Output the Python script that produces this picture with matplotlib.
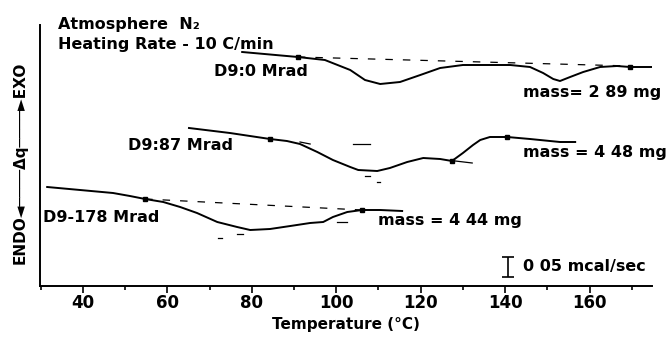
import matplotlib
matplotlib.use("Agg")
import matplotlib.pyplot as plt
from matplotlib.ticker import MultipleLocator

plt.rcParams['font.family'] = ['DejaVu Sans']
plt.rcParams['font.weight'] = 'bold'

# DSC traces: temperature (C) and signal (arb. units, EXO up)
T_0 = [77.7, 90.9, 97.3, 100.9, 103.3, 106.8, 110.4, 115.1, 119.9, 124.6, 130.0, 136.4,
       141.2, 145.9, 149.0, 151.4, 153.0, 155.4, 158.5, 162.5, 166.5, 169.6, 174.8]
q_0 = [234, 229, 226, 220, 216, 206, 202, 204, 211, 218, 221, 221,
       221, 219, 213, 207, 205, 209, 214, 219, 220, 219, 219]

T_87 = [65.1, 74.8, 84.3, 88.3, 91.4, 95.5, 99.2, 103.3, 105.2, 109.7, 112.7, 116.8,
        120.6, 124.6, 127.4, 130.0, 132.4, 134.1, 136.4, 140.5, 145.9, 153.0, 156.6]
q_87 = [158, 153, 147, 145, 142, 134, 126, 119, 116, 115, 118, 124,
        128, 127, 125, 133, 141, 146, 149, 149, 147, 144, 144]

T_178 = [31.5, 39.3, 47.1, 51.1, 54.7, 59.0, 63.0, 67.0, 71.8, 76.5, 79.6, 84.3,
         89.1, 93.8, 96.9, 99.2, 102.6, 106.1, 110.4, 115.6]
q_178 = [99, 96, 93, 90, 87, 84, 79, 73, 64, 59, 56, 57,
         60, 63, 64, 69, 74, 76, 76, 75]

# square markers (onset / end points)
mark_T = [90.9, 169.6, 84.3, 127.4, 140.5, 54.7, 106.1]
mark_q = [229, 219, 147, 125, 149, 87, 76]

# dashed baselines
base_T = [[90.9, 169.6], [54.7, 106.1]]
base_q = [[229, 220], [87, 76]]

# short tangent construction strokes
tick_T = [[91.4, 93.8], [104.0, 108.0], [106.8, 108.0], [109.7, 110.4], [128.2, 132.2],
          [72.0, 72.9], [76.5, 77.9], [100.2, 102.6]]
tick_q = [[144, 142], [142, 142], [110, 110], [104, 104], [125, 123],
          [48, 48], [52, 52], [64, 64]]

fig = plt.figure(figsize=(6.71, 3.38), dpi=100)
ax = fig.add_axes([40/671, 52/338, 612/671, 261/338])

for T, q in [(T_0, q_0), (T_87, q_87), (T_178, q_178)]:
    ax.plot(T, q, color='black', lw=1.4)
for T, q in zip(base_T, base_q):
    ax.plot(T, q, color='black', lw=0.9, ls=(0, (6, 8)))
for T, q in zip(tick_T, tick_q):
    ax.plot(T, q, color='black', lw=0.9)
ax.plot(mark_T, mark_q, ls='none', marker='s', ms=3.5, color='black')

ax.set_xlim(29.8, 174.8)
ax.set_ylim(0, 261)
ax.spines['top'].set_visible(False)
ax.spines['right'].set_visible(False)
ax.spines['left'].set_linewidth(1.4)
ax.spines['bottom'].set_linewidth(1.4)
ax.set_yticks([])
ax.set_xticks([40, 60, 80, 100, 120, 140, 160])
ax.xaxis.set_minor_locator(MultipleLocator(10))
ax.tick_params(axis='x', which='major', length=5, width=1.2, labelsize=12, pad=1)
ax.tick_params(axis='x', which='minor', length=3, width=1.2)
ax.set_xlabel('Temperature (°C)', fontsize=11, fontweight='bold', labelpad=3)

fs = 11.5
ax.text(34.0, 262, 'Atmosphere  N₂', fontsize=fs, va='center', ha='left')
ax.text(34.0, 242, 'Heating Rate - 10 C/min', fontsize=fs, va='center', ha='left')
ax.text(71.0, 215, 'D9:0 Mrad', fontsize=fs, va='center', ha='left')
ax.text(50.7, 140, 'D9:87 Mrad', fontsize=fs, va='center', ha='left')
ax.text(30.5, 68, 'D9-178 Mrad', fontsize=fs, va='center', ha='left')
ax.text(144.3, 194, 'mass= 2 89 mg', fontsize=fs, va='center', ha='left')
ax.text(144.3, 134, 'mass = 4 48 mg', fontsize=fs, va='center', ha='left')
ax.text(109.9, 66, 'mass = 4 44 mg', fontsize=fs, va='center', ha='left')
ax.text(144.3, 20, '0 05 mcal/sec', fontsize=fs, va='center', ha='left')

# 0.05 mcal/sec scale bar
ax.errorbar([140.7], [19], yerr=[10], color='black', capsize=4, lw=1.2, capthick=1.2)

fig.text(20/671, 1 - 163/338, 'ENDO◄────Δq────►EXO', rotation=90,
         fontsize=11, va='center', ha='center')

fig.savefig('out.png', dpi=100)
